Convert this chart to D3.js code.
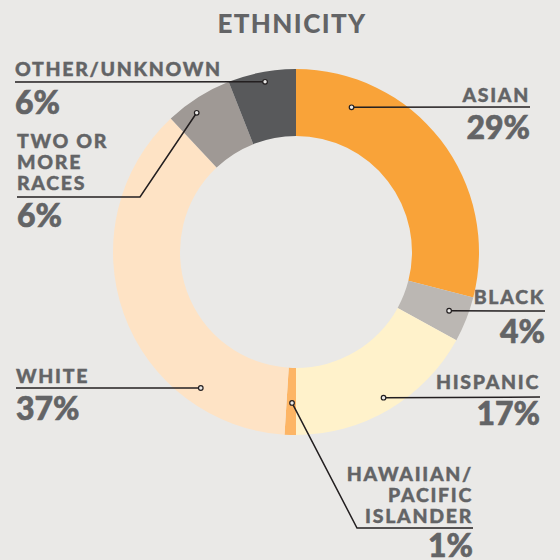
<!DOCTYPE html>
<html>
<head>
<meta charset="utf-8">
<script src="https://d3js.org/d3.v7.min.js"></script>
<style>
  html, body { margin: 0; padding: 0; background: #eae9e7; }
  #chart { width: 560px; height: 560px; }
  text { font-family: Lato, "DejaVu Sans", sans-serif; font-weight: 900; fill: #636466; }
</style>
</head>
<body>
<div id="chart"></div>
<script>
// data
const categories = ["Asian", "Black", "Hispanic", "Hawaiian/Pacific Islander", "White", "Two or more races", "Other/Unknown"];
const labelLines = [["ASIAN"], ["BLACK"], ["HISPANIC"], ["HAWAIIAN/", "PACIFIC", "ISLANDER"], ["WHITE"], ["TWO OR", "MORE", "RACES"], ["OTHER/UNKNOWN"]];
const values = [29, 4, 17, 1, 37, 6, 6];
const colors = ["#f9a339", "#bbb7b3", "#fff2cb", "#fdb565", "#fee3c5", "#9f9995", "#58595b"];

// label placement (layout only); nameY is the baseline of the last name line
const labelLayout = [
  {x: 530, anchor: "end",   nameY: 102, lineY: 107, lineFrom: 530, elbowX: null, pctY: 139, dotDeg: 21,  dotR: 155},
  {x: 545, anchor: "end",   nameY: 304, lineY: 311, lineFrom: 545, elbowX: null, pctY: 343, dotDeg: 111, dotR: 164},
  {x: 540, anchor: "end",   nameY: 389, lineY: 397, lineFrom: 540, elbowX: null, pctY: 425, dotDeg: 149, dotR: 170},
  {x: 473, anchor: "end",   nameY: 523, lineY: 528, lineFrom: 473, elbowX: 357,  pctY: 557, dotDeg: 181.5, dotR: 151},
  {x: 16,  anchor: "start", nameY: 383, lineY: 388, lineFrom: 16,  elbowX: null, pctY: 420, dotDeg: 215, dotR: 166},
  {x: 17,  anchor: "start", nameY: 190, lineY: 197, lineFrom: 17,  elbowX: 140,  pctY: 227, dotDeg: 324.5, dotR: 171},
  {x: 15,  anchor: "start", nameY: 76,  lineY: 82,  lineFrom: 15,  elbowX: null, pctY: 114, dotDeg: 349.7, dotR: 173}
];

const width = 560, height = 560;
const cx = 296, cy = 252;
const outerR = 183, innerR = 116;

const svg = d3.select("#chart").append("svg")
  .attr("width", width)
  .attr("height", height);

svg.append("rect").attr("width", width).attr("height", height).attr("fill", "#eae9e7");

// title
svg.append("text")
  .attr("x", 292)
  .attr("y", 33)
  .attr("text-anchor", "middle")
  .style("font-size", "26px")
  .style("letter-spacing", "1.4px")
  .text("ETHNICITY");

const data = categories.map((c, i) => ({name: c, value: values[i], color: colors[i], lines: labelLines[i], layout: labelLayout[i]}));

const pie = d3.pie().value(d => d.value).sort(null);
const arc = d3.arc().innerRadius(innerR).outerRadius(outerR);

const g = svg.append("g").attr("transform", `translate(${cx},${cy})`);

g.selectAll("path.slice")
  .data(pie(data))
  .enter().append("path")
  .attr("class", "slice")
  .attr("d", arc)
  .attr("fill", d => d.data.color);

// labels with leader lines
const lbl = svg.append("g");
data.forEach(d => {
  const L = d.layout;
  const a = L.dotDeg * Math.PI / 180;
  const dx = cx + L.dotR * Math.sin(a);
  const dy = cy - L.dotR * Math.cos(a);

  const pts = [[L.lineFrom, L.lineY]];
  if (L.elbowX !== null) pts.push([L.elbowX, L.lineY]);
  pts.push([dx, dy]);

  lbl.append("path")
    .attr("d", d3.line()(pts))
    .attr("fill", "none")
    .attr("stroke", "#231f20")
    .attr("stroke-width", 1.5);

  lbl.append("circle")
    .attr("cx", dx).attr("cy", dy).attr("r", 2.3)
    .attr("fill", "#eae9e7")
    .attr("stroke", "#231f20")
    .attr("stroke-width", 1.2);

  const n = d.lines.length;
  d.lines.forEach((t, k) => {
    lbl.append("text")
      .attr("x", L.x)
      .attr("y", L.nameY - (n - 1 - k) * 21)
      .attr("text-anchor", L.anchor)
      .style("font-size", "19.5px")
      .style("letter-spacing", "1.7px")
      .style("stroke", "#636466")
      .style("stroke-width", 0.4)
      .text(t);
  });

  lbl.append("text")
    .attr("x", L.x)
    .attr("y", L.pctY)
    .attr("text-anchor", L.anchor)
    .style("font-size", "32px")
    .style("stroke", "#636466")
    .style("stroke-width", 0.6)
    .text(d.value + "%");
});
</script>
</body>
</html>
